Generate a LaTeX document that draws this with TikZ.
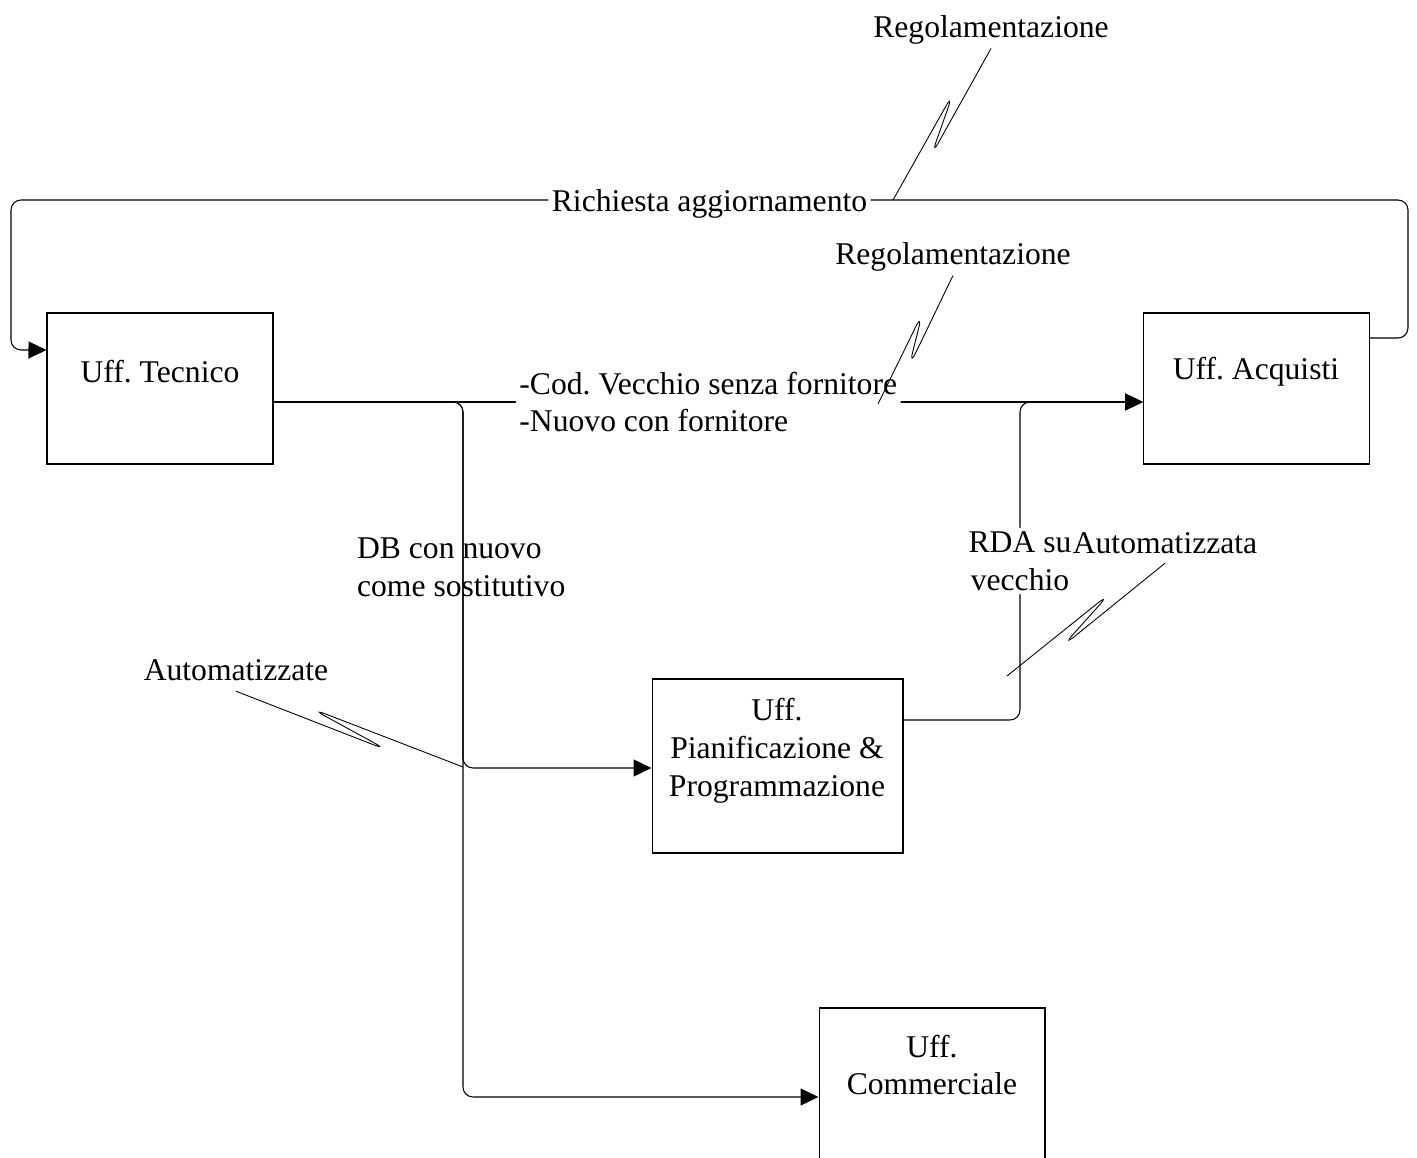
\documentclass[tikz,border=0pt]{standalone}
\usepackage{fontspec}
\setmainfont{Liberation Serif}
\usetikzlibrary{arrows.meta,positioning,calc}
\frenchspacing

\tikzset{
  box/.style={draw, line width=0.6pt, minimum width=4.52cm, minimum height=3.02cm},
  flow/.style={line width=0.6pt, rounded corners=0.2cm, -{Triangle[length=0.36cm,width=0.34cm]}},
  lbl/.style={fill=white, inner sep=2pt},
  txt/.style={inner sep=1pt},
  callout/.style={line width=0.5pt, rounded corners=9pt},
}

% callout line with a narrow loop in the middle
\newcommand{\zigline}[4]{%
  \draw[callout] (#1) -- ($(#1)!0.68!(#2)!0.15cm!#3:(#2)$)
    -- ($(#1)!0.32!(#2)!0.16cm!#4:(#2)$) -- (#2);}

\begin{document}
\begin{tikzpicture}[x=0.02cm, y=-0.02cm, every node/.style={font=\fontsize{18}{21.6}\selectfont}]
    \useasboundingbox (0,0) rectangle (1417,1158);
    \clip (0,0) rectangle (1417,1158);

    % Offices
    \node[box] (tec) at (160,388.5) {};
    \node[box] (acq) at (1256.5,388.5) {};
    \node[box, minimum width=5.02cm, minimum height=3.48cm] (pia) at (777.5,766) {};
    \node[box, minimum height=3.56cm] (com) at (932,1097) {};

    \node[txt] (tecT) at (160,372) {Uff. Tecnico};
    \node[txt] (acqT) at (1256,372) {Uff. Acquisti};
    \node[txt, align=center] (piaT) at (777,751) {Uff.\\Pianificazione \&\\Programmazione};
    \node[txt, align=center] (comT) at (932,1065) {Uff.\\Commerciale};

    % Flows
    \draw[flow] ([yshift=1.01cm]acq.east) -- (1408,338) -- (1408,200)
        -- node[lbl, yshift=-0.07cm] (req) {Richiesta aggiornamento} (11,200) -- (11,350)
        -- ([yshift=0.77cm]tec.west);
    \draw[flow] ([yshift=-0.27cm]tec.east)
        -- node[lbl, align=left] (cod) {-Cod. Vecchio senza fornitore\\-Nuovo con fornitore}
        ([yshift=-0.27cm]acq.west);
    \draw[flow] ([yshift=-0.27cm]tec.east) -- (463,402) -- (463,768) -- ([yshift=-0.04cm]pia.west);
    \draw[flow] ([yshift=-0.27cm]tec.east) -- (463,402) -- (463,1097) -- (com.west);
    \draw[flow] ([yshift=0.92cm]pia.east) -- (1020,720)
        -- node[lbl, align=center] (rda) {RDA su\\vecchio} (1020,402)
        -- ([yshift=-0.27cm]acq.west);

    \node[txt, anchor=west, align=left] (db) at (355,567) {DB con nuovo\\come sostitutivo};

    % Callouts
    \node[txt] (reg1) at (991,30) {Regolamentazione};
    \node[txt] (reg2) at (953,257) {Regolamentazione};
    \node[txt] (aut1) at (1165,543) {Automatizzata};
    \node[txt] (aut2) at (236,670) {Automatizzate};

    \coordinate (c1) at (893,200);
    \coordinate (c2) at (878,404);
    \coordinate (c3) at (1007,676);
    \coordinate (c4) at (463,767);
    \coordinate (r1) at ([yshift=-0.04cm]reg1.south);
    \coordinate (r2) at ([yshift=-0.04cm]reg2.south);
    \coordinate (a1) at ([yshift=-0.15cm]aut1.south);
    \coordinate (a2) at ([yshift=-0.17cm]aut2.south);

    \zigline{c1}{r1}{90}{-90}
    \zigline{c2}{r2}{90}{-90}
    \zigline{c3}{a1}{90}{-90}
    \zigline{c4}{a2}{-90}{90}

\end{tikzpicture}
\end{document}
